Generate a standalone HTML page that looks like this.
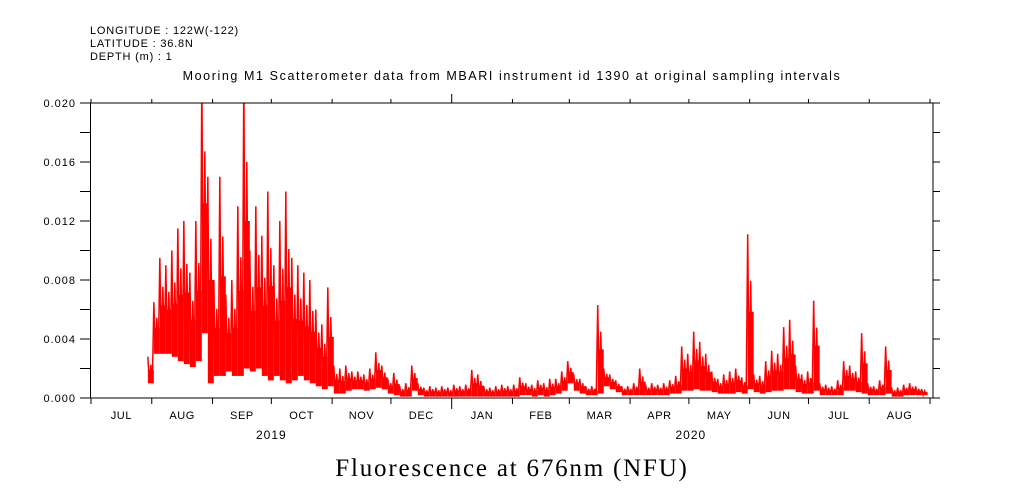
<!DOCTYPE html>
<html><head><meta charset="utf-8"><style>
body{margin:0;background:#fff;}
svg{display:block;font-family:"Liberation Sans",sans-serif;}
</style></head><body>
<svg id="chart" width="1009" height="504" viewBox="0 0 1009 504">
<text x="90" y="34" font-size="11" letter-spacing="0.8">LONGITUDE : 122W(-122)</text>
<text x="90" y="47" font-size="11" letter-spacing="0.8">LATITUDE : 36.8N</text>
<text x="90" y="60" font-size="11" letter-spacing="0.8">DEPTH (m) : 1</text>
<text x="512" y="80" font-size="12.5" letter-spacing="1.6" text-anchor="middle">Mooring M1 Scatterometer data from MBARI instrument id 1390 at original sampling intervals</text>
<text x="512" y="476" font-size="25" letter-spacing="1.8" text-anchor="middle" font-family="Liberation Serif,serif">Fluorescence at 676nm (NFU)</text>
<defs><clipPath id="clip"><rect x="91" y="103" width="842" height="295"/></clipPath></defs>
<g id="series" clip-path="url(#clip)"></g>
<g id="axes"></g>
</svg>
<script>
const startDay = 29; // days after Jul 1 2019
const stepDays = 3.06;
const hiVals = [2.8,6.5,9.5,9,10,11.5,12,8.5,12,22,15,8,15,7,8,13,22,10,13,11,14,9,12,14,9.5,9,8.5,8,6,5,7.5,2.2,2,2.2,1.8,1.8,1.6,2.0,3.1,2.2,1.3,1.7,0.8,1.0,2.2,1.0,0.7,0.8,0.7,0.8,0.7,0.9,0.8,0.9,1.9,1.6,0.8,0.7,0.8,0.9,0.8,0.9,1.4,1.0,0.9,1.2,1.0,1.3,1.3,1.8,2.5,1.6,1.3,0.8,0.8,6.3,2.0,1.6,1.2,0.8,0.8,1.0,2.0,0.9,1.0,0.9,1.0,1.2,1.5,3.5,3.0,4.5,3.8,3.0,1.8,1.3,1.6,1.8,2.0,1.4,11.1,1.6,1.5,2.5,3.2,3.0,4.8,5.3,2.2,1.6,1.8,6.6,1.0,0.9,0.8,1.2,2.5,2.2,1.8,4.4,1.0,0.8,1.2,3.5,0.7,0.7,0.9,1.0,0.8,0.6];
const loVals = [1.0,3,3,3,2.8,2.5,2.3,2.1,2.5,4.4,1,1.5,1.5,1.8,1.5,1.5,2,1.8,2,1.5,1.2,1.5,1.2,1.0,1.2,1.5,1.2,1.0,0.8,0.6,0.8,0.3,0.3,0.5,0.6,0.6,0.5,0.6,0.7,0.6,0.3,0.2,0.1,0.1,0.5,0.2,0.1,0.1,0.1,0.1,0.1,0.1,0.1,0.1,0.1,0.1,0.1,0.1,0.1,0.1,0.1,0.1,0.2,0.2,0.1,0.2,0.1,0.2,0.3,0.5,1.0,0.5,0.3,0.2,0.2,0.3,0.8,0.6,0.4,0.2,0.2,0.2,0.2,0.2,0.2,0.2,0.2,0.3,0.3,0.5,0.5,0.6,0.5,0.5,0.4,0.3,0.3,0.3,0.4,0.3,0.6,0.4,0.3,0.4,0.5,0.5,0.6,0.6,0.4,0.3,0.3,0.5,0.2,0.2,0.2,0.2,0.5,0.5,0.4,0.3,0.2,0.2,0.2,0.3,0.1,0.1,0.2,0.2,0.2,0.2];
const yTicks = [0,0.004,0.008,0.012,0.016,0.020];
const yTickLabels = ["0.000","0.004","0.008","0.012","0.016","0.020"];
const monthDays = [0,31,62,92,123,153,184,215,244,275,305,336,366,397,428];
const monthLabels = ["JUL","AUG","SEP","OCT","NOV","DEC","JAN","FEB","MAR","APR","MAY","JUN","JUL","AUG"];
const yearLabels = ["2019","2020"];
const yearDays = [92,306];

const NS="http://www.w3.org/2000/svg";
const X0=91,X1=930,Y0=398,Y1=103,DMAX=428;
const xs=d=>X0+d*(X1-X0)/DMAX;
const ys=v=>Y0-v*(Y0-Y1)/0.020;
function mk(t,a,p){const e=document.createElementNS(NS,t);for(const k in a)e.setAttribute(k,a[k]);(p||document.getElementById('axes')).appendChild(e);return e;}

const sg=document.getElementById('series');
// body fill between lo and mid of each sample
for(let i=0;i<hiVals.length;i++){
  const d=startDay+i*stepDays;
  const h=hiVals[i]/1000,l=loVals[i]/1000;
  const m=(h+l)/2;
  const r=mk('rect',{x:xs(d),y:ys(m),width:xs(d+stepDays)-xs(d),height:Math.max(0,ys(l)-ys(m)),fill:'#ff0000'},sg);
  
  
}
let pts=[];
for(let i=0;i<hiVals.length;i++){
  const d=startDay+i*stepDays;
  const h=hiVals[i]/1000,l=loVals[i]/1000;
  pts.push(xs(d)+','+ys(h));
  pts.push(xs(d+stepDays*0.25)+','+ys(l));
  pts.push(xs(d+stepDays*0.5)+','+ys((h+l)/2+ (h-l)*0.2));
  pts.push(xs(d+stepDays*0.75)+','+ys(l));
}
const line=mk('polyline',{points:pts.join(' '),fill:'none',stroke:'#ff0000','stroke-width':1.5},sg);



const fr=mk('rect',{x:90.5,y:103,width:842.5,height:295,fill:'none',stroke:'#000','stroke-width':1});



for(let k=0;k<=10;k++){
  const y=ys(k*0.002);
  mk('line',{x1:80,x2:90.5,y1:y,y2:y,stroke:'#000'});
  mk('line',{x1:933,x2:940,y1:y,y2:y,stroke:'#000'});
}
yTicks.forEach((v,i)=>{
  const t=mk('text',{x:76,y:ys(v)+4,'font-size':11,'letter-spacing':1,'text-anchor':'end'});
  t.textContent=yTickLabels[i];
  
  
});
monthDays.forEach(d=>{
  const x=xs(d);
  const big=(d===184);
  mk('line',{x1:x,x2:x,y1:398,y2:big?409:404,stroke:'#000'});
  mk('line',{x1:x,x2:x,y1:103,y2:big?94:99,stroke:'#000'});
});
monthLabels.forEach((m,i)=>{
  const t=mk('text',{x:(xs(monthDays[i])+xs(monthDays[i+1]))/2,y:419,'font-size':11,'letter-spacing':0.6,'text-anchor':'middle'});
  t.textContent=m;
  
  
});
yearLabels.forEach((yl,i)=>{
  const t=mk('text',{x:xs(yearDays[i]),y:439,'font-size':12,'letter-spacing':1,'text-anchor':'middle'});
  t.textContent=yl;
  
  
});
</script>
</body></html>
